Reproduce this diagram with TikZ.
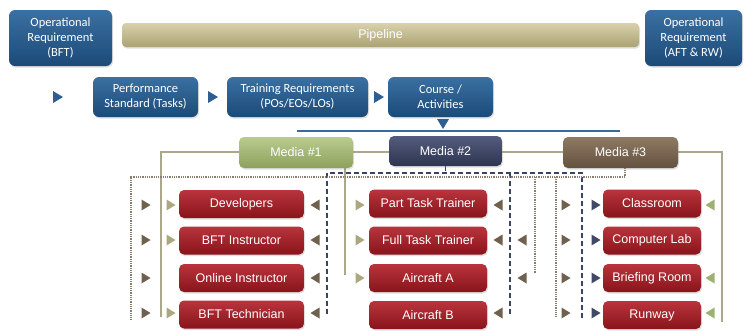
\documentclass[tikz,border=0pt]{standalone}
\usepackage{fontspec}
\setmainfont{Liberation Sans}
\newfontfamily\carl{Carlito}
\usetikzlibrary{shadows}
\definecolor{bluetop}{HTML}{3A70A2}
\definecolor{bluebot}{HTML}{1C4A77}
\definecolor{pipetop}{HTML}{D8D1AB}
\definecolor{pipebot}{HTML}{ABA274}
\definecolor{mAtop}{HTML}{BACB90}
\definecolor{mAbot}{HTML}{8DA15C}
\definecolor{mBtop}{HTML}{545C7E}
\definecolor{mBbot}{HTML}{2E3550}
\definecolor{mCtop}{HTML}{8E7A64}
\definecolor{mCbot}{HTML}{64513E}
\definecolor{redtop}{HTML}{BA343C}
\definecolor{redbot}{HTML}{88141B}
\definecolor{arBrown}{HTML}{6F614E}
\definecolor{arOlive}{HTML}{ABA880}
\definecolor{arNavy}{HTML}{404A68}
\definecolor{arGreen}{HTML}{9CB272}
\definecolor{arBlue}{HTML}{2D5F90}
\definecolor{tanline}{HTML}{ABA78A}
\definecolor{dashcol}{HTML}{3C4560}
\definecolor{dotcol}{HTML}{8A7F6E}
\definecolor{bline}{HTML}{3B6A98}
\pgfdeclarelayer{bg}
\pgfsetlayers{bg,main}
\tikzset{
  shad/.style={drop shadow={opacity=0.25,shadow xshift=1pt,shadow yshift=-1.5pt}},
  bluebox/.style={shad,rounded corners=6pt,top color=bluetop,bottom color=bluebot,
    text=white,align=center,font=\carl\fontsize{12.5}{15}\selectfont,inner sep=2pt},
  pipebox/.style={shad,rounded corners=4pt,top color=pipetop,bottom color=pipebot,
    text=white,font=\fontsize{12.5}{15}\selectfont},
  mediaA/.style={shad,rounded corners=5pt,top color=mAtop,bottom color=mAbot,
    text=white,font=\fontsize{12.5}{15}\selectfont,minimum width=114pt,minimum height=31pt},
  mediaB/.style={shad,rounded corners=5pt,top color=mBtop,bottom color=mBbot,
    text=white,font=\fontsize{12.5}{15}\selectfont,minimum width=113pt,minimum height=30pt},
  mediaC/.style={shad,rounded corners=5pt,top color=mCtop,bottom color=mCbot,
    text=white,font=\fontsize{12.5}{15}\selectfont,minimum width=115pt,minimum height=31pt},
  redbox/.style={shad,rounded corners=5pt,top color=redtop,bottom color=redbot,
    text=white,font=\fontsize{12.5}{15}\selectfont,minimum height=28pt,inner sep=1pt},
  tanln/.style={draw=tanline,line width=1.5pt},
  dashln/.style={draw=dashcol,line width=1.6pt,dash pattern=on 5pt off 3pt},
  dotln/.style={draw=dotcol,line width=1.3pt,dash pattern=on 0.9pt off 0.9pt},
  pics/tri/.style={code={\fill[#1] (-4.5,-5.5) -- (4.5,0) -- (-4.5,5.5) -- cycle;}},
  pics/bigtri/.style={code={\fill[#1] (-5,-6) -- (5,0) -- (-5,6) -- cycle;}},
}
\begin{document}
\begin{tikzpicture}[x=1pt,y=-1pt]
\useasboundingbox (0,0) rectangle (744,330);
% top row
\node[bluebox,minimum width=103pt,minimum height=56pt] (opl) at (60.5,38) {Operational\\Requirement\\(BFT)};
\node[pipebox,minimum width=517pt,minimum height=24pt] (pipe) at (380.5,35) {Pipeline};
\node[bluebox,minimum width=97pt,minimum height=56pt] (opr) at (693.5,38) {Operational\\Requirement\\(AFT \& RW)};
% second row
\node[bluebox,minimum width=105pt,minimum height=40pt] (perf) at (145.5,97) {Performance\\Standard (Tasks)};
\node[bluebox,minimum width=141pt,minimum height=40pt] (train) at (297.5,97) {Training Requirements\\(POs/EOs/LOs)};
\node[bluebox,minimum width=105pt,minimum height=40pt] (course) at (440.5,97) {Course /\\Activities};
\pic at (58,97) {bigtri=arBlue};
\pic at (213,97) {bigtri=arBlue};
\pic at (379,97) {bigtri=arBlue};
\pic[rotate=-90] at (443,124) {bigtri=arBlue};
% blue line
\coordinate (blA) at (297,131);
\coordinate (blB) at (620,131);
\draw[bline,line width=2pt] (blA) -- (blB);
% media
\node[mediaA] (m1) at (296,152.5) {Media \#1};
\node[mediaB] (m2) at (445.5,151) {Media \#2};
\node[mediaC] (m3) at (620.5,152.5) {Media \#3};
% red boxes
\foreach \n/\t/\y in {a1/Developers/204,a2/BFT Instructor/240.5,a3/Online Instructor/278,a4/BFT Technician/314.5}
  \node[redbox,minimum width=125pt] (\n) at (241.5,\y) {\t};
\foreach \n/\t/\y in {b1/Part Task Trainer/203.5,b2/Full Task Trainer/240.5,b3/Aircraft A/278,b4/Aircraft B/315}
  \node[redbox,minimum width=118pt] (\n) at (428,\y) {\t};
\foreach \n/\t/\y in {c1/Classroom/203.5,c2/Computer Lab/240.5,c3/Briefing Room/278,c4/Runway/315}
  \node[redbox,minimum width=98pt] (\n) at (652,\y) {\t};
% bus coordinates
\coordinate (tL) at (161,152);
\coordinate (tR) at (722,152);
\coordinate (tLb) at (161,317);
\coordinate (tRb) at (722,322);
\coordinate (tM) at (345,275);
\coordinate (dL) at (327,173);
\coordinate (dR) at (582,173);
\coordinate (dLb) at (327,314);
\coordinate (dMt) at (510,173);
\coordinate (dMb) at (510,316);
\coordinate (dRb) at (582,320);
\coordinate (oL) at (131,177);
\coordinate (oR) at (625,177);
\coordinate (oLb) at (131,320);
\coordinate (o1t) at (535,177);
\coordinate (o1b) at (535,273);
\coordinate (o2t) at (556,177);
\coordinate (o2b) at (556,316);
\begin{pgfonlayer}{bg}
\draw[tanln] (tLb) -- (tL) -- (tR) -- (tRb);
\draw[tanln] (m1.south -| tM) -- (tM);
\draw[dashln] (m2.south) -- (m2.south |- dL);
\draw[dashln] (dLb) -- (dL) -- (dR) -- (dRb);
\draw[dashln] (dMt) -- (dMb);
\draw[dotln] (m3.south -| oR) -- (oR) -- (oL) -- (oLb);
\draw[dotln] (o1t) -- (o1b);
\draw[dotln] (o2t) -- (o2b);
\end{pgfonlayer}
% column 1 arrows
\foreach \y in {205,240,278,313} \pic at (146,\y) {tri=arBrown};
\foreach \y in {205,240,313} \pic at (171,\y) {tri=arOlive};
\foreach \y in {205,240,278,313} \pic[rotate=180] at (315,\y) {tri=arBrown};
% column 2 arrows
\foreach \y in {205,240,278} \pic at (360,\y) {tri=arOlive};
\foreach \y in {205,240,313} \pic[rotate=180] at (498,\y) {tri=arBrown};
\foreach \y in {240,278} \pic[rotate=180] at (522,\y) {tri=arBrown};
% column 3 arrows
\foreach \y in {205,240,278,313} \pic at (566,\y) {tri=arBrown};
\foreach \y in {205,240,278,313} \pic at (596,\y) {tri=arNavy};
\foreach \y in {205,278,313} \pic[rotate=180] at (710,\y) {tri=arGreen};
\end{tikzpicture}
\end{document}
